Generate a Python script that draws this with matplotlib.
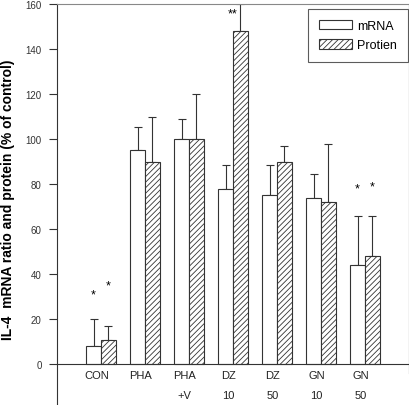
import matplotlib.pyplot as plt
import numpy as np

plt.rcParams['font.family'] = ['Liberation Sans', 'DejaVu Sans']
plt.rcParams['hatch.linewidth'] = 0.6

# data
groups = ['CON', 'PHA', 'PHA', 'DZ', 'DZ', 'GN', 'GN']
doses = ['', '', '+V', '10', '50', '10', '50']
mrna = [8, 95, 100, 78, 75, 74, 44]
mrna_err = [12, 10.5, 9, 10.5, 13.5, 10.5, 22]
protein = [11, 90, 100, 148, 90, 72, 48]
protein_err = [6, 20, 20, 12, 7, 26, 18]
# significance marks: (group index, bar side, height)
stars = [(0, -1, 31, '*'), (0, 1, 35, '*'), (3, 0, 156, '**'),
         (6, -1, 78, '*'), (6, 1, 79, '*')]

x = np.arange(len(groups))
width = 0.335

fig = plt.figure(figsize=(4.10, 4.06), dpi=100)
ax = fig.add_axes([57 / 410, 0, 352 / 410, 401 / 406])

ax.bar(x - width / 2, mrna, width, color='white', edgecolor='#333333',
       linewidth=0.8, label='mRNA', zorder=2)
ax.bar(x + width / 2, protein, width, color='white', edgecolor='#333333',
       hatch='//////', linewidth=0.8, label='Protien', zorder=2)
ax.errorbar(x - width / 2, mrna, yerr=[np.zeros(len(mrna)), mrna_err], fmt='none',
            ecolor='#333333', elinewidth=0.8, capsize=3, capthick=0.8, zorder=1)
ax.errorbar(x + width / 2, protein, yerr=[np.zeros(len(protein)), protein_err], fmt='none',
            ecolor='#333333', elinewidth=0.8, capsize=3, capthick=0.8, zorder=1)

for i, side, h, s in stars:
    ax.text(x[i] + side * width / 2, h, s, ha='center', va='center', fontsize=9)

ax.set_xlim(-1, 7)
ax.set_ylim(-18, 160)
ax.set_yticks(np.arange(0, 161, 20))
ax.tick_params(axis='y', labelsize=7, length=6, width=0.8, pad=5,
               colors='#333333')
ax.set_xticks([])

# category labels below the zero line
for i in range(len(groups)):
    ax.text(x[i] - 0.1, -4.9, groups[i], ha='center', va='center', fontsize=8,
            color='#222222')
    if doses[i]:
        ax.text(x[i] - 0.1, -13.6, doses[i], ha='center', va='center', fontsize=8,
                color='#222222')

ax.axhline(0, color='#333333', linewidth=0.8, zorder=3)
ax.spines['bottom'].set_visible(False)
ax.spines['right'].set_bounds(-4, 160)
ax.spines['top'].set_color('#888888')
for s in ['left', 'right']:
    ax.spines[s].set_color('#333333')
    ax.spines[s].set_linewidth(0.8)

ax.set_ylabel('IL-4  mRNA ratio and protein (% of control)', fontsize=10,
              fontweight='bold')
ax.yaxis.set_label_coords(-0.12, 0.514)

leg = ax.legend(loc='upper right', fontsize=9, fancybox=False, edgecolor='#333333',
                borderpad=0.85, handlelength=2.7, handleheight=0.8, labelspacing=0.6,
                handletextpad=0.4, borderaxespad=0, bbox_to_anchor=(0.997, 0.9875))
leg.get_frame().set_linewidth(0.8)

fig.savefig('out.png', dpi=100)
